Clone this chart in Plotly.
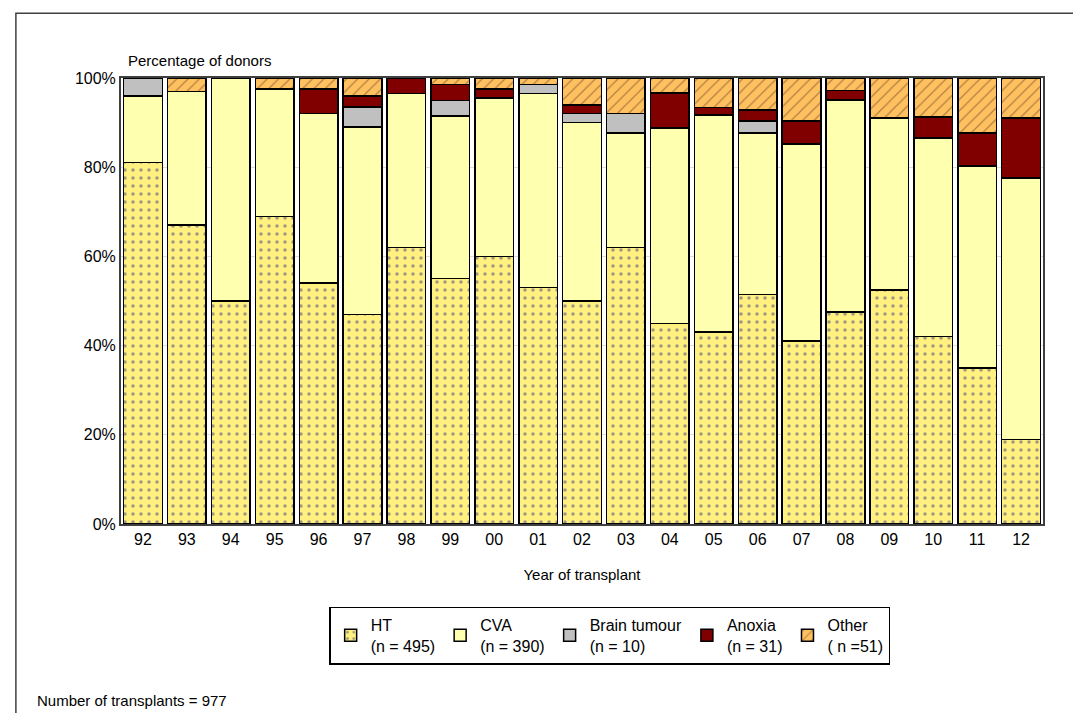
import plotly.graph_objects as go

years = ['92', '93', '94', '95', '96', '97', '98', '99', '00', '01', '02',
         '03', '04', '05', '06', '07', '08', '09', '10', '11', '12']
ht = [81, 67, 50, 69, 54, 47, 62, 55, 60, 53, 50, 62, 45, 43, 51.5, 41, 47.5, 52.5, 42, 35, 19]
cva = [15, 30, 50, 28.5, 38, 42, 34.5, 36.5, 35.5, 43.5, 40, 25.7, 43.8, 48.7, 36.2, 44.2, 47.6, 38.5, 44.5, 45.3, 58.6]
brain = [4, 0, 0, 0, 0, 4.5, 0, 3.5, 0, 2, 2, 4.3, 0, 0, 2.7, 0, 0, 0, 0, 0, 0]
anoxia = [0, 0, 0, 0, 5.5, 2.5, 3.5, 3.5, 2, 0, 2, 0, 7.8, 1.7, 2.4, 5.2, 2.1, 0, 4.8, 7.4, 13.4]
other = [0, 3, 0, 2.5, 2.5, 4, 0, 1.5, 2.5, 1.5, 6, 8, 3.4, 6.6, 7.2, 9.6, 2.8, 9, 8.7, 12.3, 9]

series = [
    ('HT<br>(n = 495)', ht, '#FFF080', '.'),
    ('CVA<br>(n = 390)', cva, '#FFFFB0', ''),
    ('Brain tumour<br>(n = 10)', brain, '#C0C0C0', ''),
    ('Anoxia<br>(n = 31)', anoxia, '#800000', ''),
    ('Other<br>( n =51)', other, '#FFC060', '/'),
]

fig = go.Figure()
for name, vals, col, pat in series:
    fig.add_trace(go.Bar(
        x=years, y=vals, name=name,
        marker=dict(color=col, line=dict(color='black', width=1.5),
                    pattern=dict(shape=pat, fgcolor='#404080' if pat == '.' else '#604020',
                                 size=8, solidity=0.15)),
    ))

fig.update_layout(
    barmode='stack', bargap=0.12,
    width=1081, height=713,
    plot_bgcolor='white', paper_bgcolor='white',
    margin=dict(l=113, r=46, t=70, b=197),
    font=dict(family='Liberation Sans, Arial', size=16, color='black'),
    xaxis=dict(title=dict(text='Year of transplant', standoff=22, font=dict(size=15)),
               showline=True, linecolor='#404040', linewidth=2, mirror=True, ticks=''),
    yaxis=dict(range=[0, 100], dtick=20, ticksuffix='%', showgrid=True,
               gridcolor='#DDDDDD', showline=True, linecolor='#404040',
               linewidth=2, mirror=True, ticks=''),
    legend=dict(orientation='h', x=0.53, xanchor='center', y=-0.185, yanchor='top',
                bordercolor='black', borderwidth=1.5, traceorder='normal',
                font=dict(size=16), itemwidth=30, tracegroupgap=0),
    annotations=[
        dict(text='Percentage of donors', xref='paper', yref='paper', x=0.005, y=1.015,
             xanchor='left', yanchor='bottom', showarrow=False, font=dict(size=15)),
        dict(text='Number of transplants = 977', xref='paper', yref='paper',
             x=-0.093, y=-0.395, xanchor='left', yanchor='middle', showarrow=False,
             font=dict(size=15)),
    ],
    shapes=[dict(type='rect', xref='paper', yref='paper', x0=-0.114, x1=1.04,
                 y0=-0.45, y1=1.145, line=dict(color='#404040', width=1.5))],
)

fig.write_html('out.html')
